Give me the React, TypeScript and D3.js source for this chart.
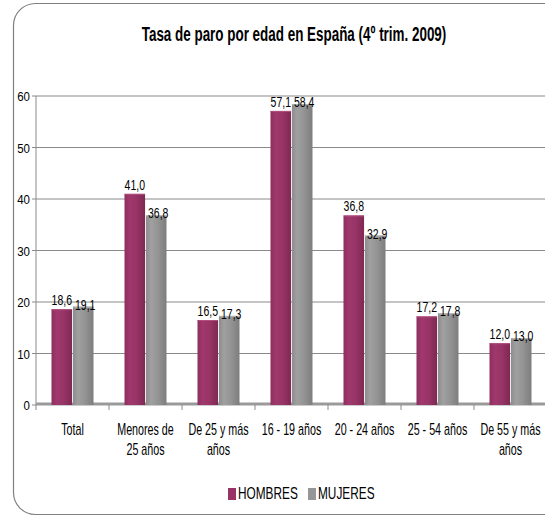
import * as d3 from "d3";
import type { ReactNode } from "react";

const CATEGORIES = [
  ["Total"],
  ["Menores de", "25 años"],
  ["De 25 y más", "años"],
  ["16 - 19 años"],
  ["20 - 24 años"],
  ["25 - 54 años"],
  ["De 55 y más", "años"],
];
const SERIES = ["HOMBRES", "MUJERES"];
const HOMBRES = [18.6, 41.0, 16.5, 57.1, 36.8, 17.2, 12.0];
const MUJERES = [19.1, 36.8, 17.3, 58.4, 32.9, 17.8, 13.0];
const Y_TICKS = [0, 10, 20, 30, 40, 50, 60];

const COLORS: Record<string, string> = { HOMBRES: "#993366", MUJERES: "#969696" };
const FONT = "'Liberation Sans', Arial, sans-serif";

const W = 545;
const H = 516;
const PLOT = { left: 36, right: 547, top: 96, bottom: 405 };

// the original text is very condensed, so squeeze Liberation Sans horizontally
function NText({ x, y, anchor = "middle", size = 13, sx = 0.7, weight = "normal", children }: {
  x: number; y: number; anchor?: string; size?: number; sx?: number; weight?: string; children: ReactNode;
}) {
  return (
    <g transform={`translate(${x},${y}) scale(${sx},1)`}>
      <text textAnchor={anchor} fontSize={size} fontWeight={weight} fill="#000">
        {children}
      </text>
    </g>
  );
}

export default function App() {
  const keys = CATEGORIES.map((c) => c.join(" "));
  const x = d3.scaleBand().domain(keys).range([PLOT.left, PLOT.right]).padding(0);
  const sub = d3.scaleBand().domain(SERIES).range([0, 42]).paddingInner(0.04);
  const y = d3.scaleLinear().domain([0, 60]).range([PLOT.bottom, PLOT.top]);
  const values: Record<string, number[]> = { HOMBRES, MUJERES };
  const fmt = (v: number) => d3.format(".1f")(v).replace(".", ",");

  return (
    <svg width={W} height={H} style={{ position: "absolute", left: 0, top: 0, background: "#fff" }} fontFamily={FONT}>
      <defs>
        <linearGradient id="g-HOMBRES" x1="0" x2="1" y1="0" y2="0">
          <stop offset="0" stopColor="#8e2e5e" />
          <stop offset="0.25" stopColor="#a0386d" />
          <stop offset="0.6" stopColor="#983466" />
          <stop offset="1" stopColor="#7e2853" />
        </linearGradient>
        <linearGradient id="g-MUJERES" x1="0" x2="1" y1="0" y2="0">
          <stop offset="0" stopColor="#8c8c8c" />
          <stop offset="0.25" stopColor="#a0a0a0" />
          <stop offset="0.6" stopColor="#939393" />
          <stop offset="1" stopColor="#7d7d7d" />
        </linearGradient>
      </defs>

      {/* outer frame, right side runs off the picture */}
      <rect x={13.5} y={3.5} width={600} height={511} rx={22} fill="none" stroke="#808080" strokeWidth={1.2} />

      <NText x={294} y={41} size={21} sx={0.64} weight="bold">
        Tasa de paro por edad en España (4º trim. 2009)
      </NText>

      {/* gridlines */}
      {Y_TICKS.filter((t) => t > 0).map((t) => (
        <line key={t} x1={PLOT.left} x2={PLOT.right} y1={y(t)} y2={y(t)} stroke="#8a8a8a" strokeWidth={1} />
      ))}

      {/* y axis */}
      <line x1={PLOT.left} x2={PLOT.left} y1={PLOT.top} y2={PLOT.bottom} stroke="#8a8a8a" />
      {Y_TICKS.map((t) => (
        <g key={t}>
          <line x1={PLOT.left - 4} x2={PLOT.left} y1={y(t)} y2={y(t)} stroke="#8a8a8a" />
          <NText x={PLOT.left - 6} y={y(t) + 5} anchor="end" size={13.5} sx={0.85}>
            {t}
          </NText>
        </g>
      ))}

      {/* floor */}
      <line x1={PLOT.left} x2={PLOT.right} y1={PLOT.bottom - 1} y2={PLOT.bottom - 1} stroke="#9a9a9a" strokeWidth={3} />

      {/* bars */}
      {keys.map((k, i) => {
        const cx = (x(k) ?? 0) + x.bandwidth() / 2;
        const x0 = cx - 21;
        return SERIES.map((s) => {
          const v = values[s][i];
          const bx = x0 + (sub(s) ?? 0);
          const bw = sub.bandwidth();
          const first = s === SERIES[0];
          return (
            <g key={k + s}>
              <rect x={bx} y={y(v)} width={bw} height={PLOT.bottom - y(v)} fill={`url(#g-${s})`} />
              <line x1={bx} x2={bx + bw} y1={y(v) + 0.5} y2={y(v) + 0.5} stroke={first ? "#b0507f" : "#b4b4b4"} />
              <NText x={bx + bw / 2 + (first ? 0 : 2)} y={y(v) + (first ? -4 : 3)} size={15} sx={0.7}>
                {fmt(v)}
              </NText>
            </g>
          );
        });
      })}

      {/* x axis ticks */}
      {keys.map((k) => (
        <line key={k} x1={x(k) ?? 0} x2={x(k) ?? 0} y1={PLOT.bottom} y2={PLOT.bottom + 5} stroke="#8a8a8a" />
      ))}
      {CATEGORIES.map((lines, i) => {
        const cx = (x(keys[i]) ?? 0) + x.bandwidth() / 2;
        return lines.map((l, j) => (
          <NText key={keys[i] + j} x={cx} y={435 + j * 20} size={16} sx={0.67}>
            {l}
          </NText>
        ));
      })}

      {/* legend */}
      {SERIES.map((s, i) => {
        const lx = i === 0 ? 228 : 308;
        return (
          <g key={s}>
            <rect x={lx} y={488} width={8} height={12} fill={COLORS[s]} />
            <NText x={lx + 10} y={498.5} anchor="start" size={16} sx={0.74}>
              {s}
            </NText>
          </g>
        );
      })}
    </svg>
  );
}
